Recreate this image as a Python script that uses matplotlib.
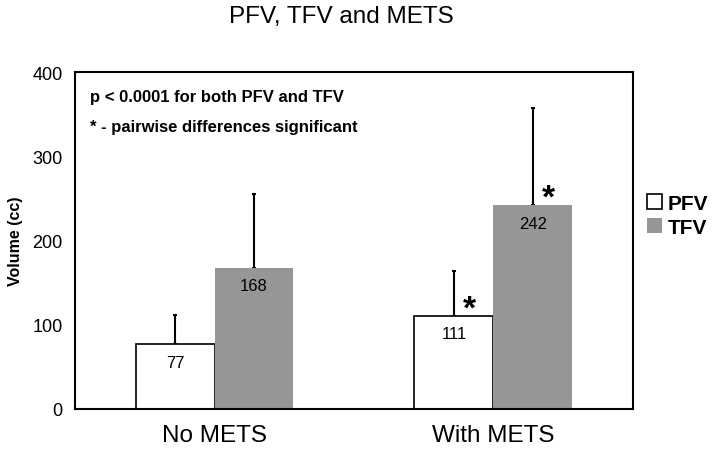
import matplotlib
matplotlib.use("Agg")
import matplotlib.pyplot as plt
import numpy as np
from matplotlib.patches import Patch

categories = ["No METS", "With METS"]
series = ["PFV", "TFV"]
pfv = [77, 111]
tfv = [168, 242]
pfv_err = [35, 53]
tfv_err = [88, 116]
pfv_sig = [False, True]
tfv_sig = [False, True]
yticks = [0, 100, 200, 300, 400]

plt.rcParams['font.family'] = ['Liberation Sans', 'DejaVu Sans']

fig = plt.figure(figsize=(7.15, 4.56), dpi=100)
ax = fig.add_axes([0.105, 0.1009, 0.78, 0.738])

x = np.arange(len(categories))
w = 0.283
gray = '#969696'

b1 = ax.bar(x - w/2, pfv, w, color='white', edgecolor='black', linewidth=1.2, zorder=2)
b2 = ax.bar(x + w/2, tfv, w, color=gray, edgecolor='none', zorder=2)
ax.errorbar(x - w/2, pfv, yerr=[np.zeros(len(pfv)), pfv_err], fmt='none',
            ecolor='black', elinewidth=1.5, capsize=1.5, capthick=1.5, zorder=1)
ax.errorbar(x + w/2, tfv, yerr=[np.zeros(len(tfv)), tfv_err], fmt='none',
            ecolor='black', elinewidth=1.5, capsize=1.5, capthick=1.5, zorder=1)

for xs, vals, sig in [(x - w/2, pfv, pfv_sig), (x + w/2, tfv, tfv_sig)]:
    for xi, v, s in zip(xs, vals, sig):
        ax.annotate(str(v), xy=(xi, v), xytext=(0, -13), textcoords='offset points',
                    ha='center', va='center', fontsize=12, zorder=3)
        if s:
            ax.annotate('*', xy=(xi, v), xytext=(11.5, 5), textcoords='offset points',
                        ha='center', va='center', fontsize=24, fontweight='bold', zorder=3)

ax.set_xlim(-0.5, 1.5)
ax.set_ylim(0, 400)
ax.set_yticks(yticks)
ax.set_yticklabels([str(t) for t in yticks], fontsize=13)
ax.set_xticks(x)
ax.set_xticklabels(categories, fontsize=17.5)
ax.tick_params(axis='both', length=0)
ax.tick_params(axis='x', pad=11)
ax.tick_params(axis='y', pad=9)
for sp in ax.spines.values():
    sp.set_linewidth(1.5)
    sp.set_color('black')

ax.set_ylabel('Volume (cc)', fontsize=11.5, fontweight='bold', labelpad=7)

ax.text(0.027, 0.930, 'p < 0.0001 for both PFV and TFV', transform=ax.transAxes,
        fontsize=12, fontweight='bold', ha='left', va='center')
ax.text(0.027, 0.838, '* - pairwise differences significant', transform=ax.transAxes,
        fontsize=12, fontweight='bold', ha='left', va='center')

fig.text(0.478, 0.962, 'PFV, TFV and METS', fontsize=17.5, ha='center', va='center')

handles = [Patch(facecolor='white', edgecolor='black', linewidth=1.2),
           Patch(facecolor=gray, edgecolor='none')]
fig.legend(handles, series, loc='center left', bbox_to_anchor=(0.905, 0.526),
           frameon=False, prop={'weight': 'bold', 'size': 15},
           handlelength=0.7, handleheight=0.7, handletextpad=0.3,
           labelspacing=0.25, borderpad=0, borderaxespad=0)

fig.savefig('out.png', dpi=100)
